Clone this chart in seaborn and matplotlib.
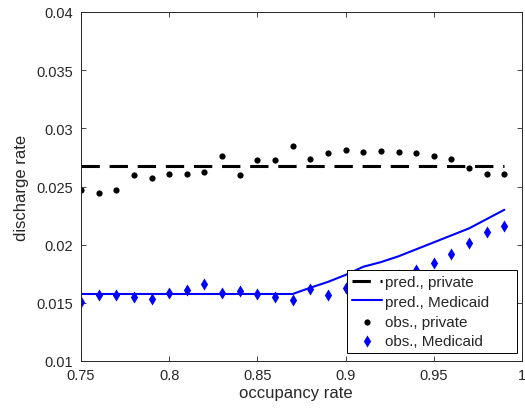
import numpy as np
import pandas as pd
import matplotlib
matplotlib.use("Agg")
import matplotlib.pyplot as plt
import seaborn as sns

# ---- data ----
occupancy = [0.75, 0.76, 0.77, 0.78, 0.79, 0.80, 0.81, 0.82, 0.83, 0.84, 0.85, 0.86, 0.87,
             0.88, 0.89, 0.90, 0.91, 0.92, 0.93, 0.94, 0.95, 0.96, 0.97, 0.98, 0.99]
pred_private = [0.0268, 0.0268, 0.0268, 0.0268, 0.0268, 0.0268, 0.0268, 0.0268, 0.0268,
                0.0268, 0.0268, 0.0268, 0.0268, 0.0268, 0.0268, 0.0268, 0.0268, 0.0268,
                0.0268, 0.0268, 0.0268, 0.0268, 0.0268, 0.0268, 0.0268]
pred_medicaid = [0.01576, 0.01576, 0.01576, 0.01576, 0.01576, 0.01576, 0.01576, 0.01576,
                 0.01576, 0.01576, 0.01576, 0.01576, 0.01576, 0.0163, 0.0168, 0.0174,
                 0.0181, 0.0185, 0.0190, 0.0196, 0.0202, 0.0208, 0.0214, 0.0222, 0.0230]
obs_private = [0.02467, 0.02448, 0.02473, 0.02602, 0.02574, 0.02611, 0.02611, 0.02625,
               0.02762, 0.02602, 0.02725, 0.02725, 0.02848, 0.02733, 0.02788, 0.02814,
               0.02797, 0.02808, 0.02797, 0.02788, 0.02762, 0.02737, 0.02656, 0.02611,
               0.02605]
obs_medicaid = [0.01510, 0.01564, 0.01570, 0.01547, 0.01536, 0.01584, 0.01607, 0.01659,
                0.01581, 0.01599, 0.01579, 0.01550, 0.01521, 0.01622, 0.01567, 0.01628,
                0.01660, 0.01700, 0.01740, 0.01781, 0.01839, 0.01916, 0.02016, 0.02110,
                0.02160]
x_ticks = [0.75, 0.8, 0.85, 0.9, 0.95, 1.0]
x_tick_labels = ["0.75", "0.8", "0.85", "0.9", "0.95", "1"]
y_ticks = [0.01, 0.015, 0.02, 0.025, 0.03, 0.035, 0.04]
y_tick_labels = ["0.01", "0.015", "0.02", "0.025", "0.03", "0.035", "0.04"]

df = pd.DataFrame({
    "occupancy": occupancy,
    "pred_private": pred_private,
    "pred_medicaid": pred_medicaid,
    "obs_private": obs_private,
    "obs_medicaid": obs_medicaid,
})

sns.set_style("ticks")
plt.rcParams["font.family"] = ["Liberation Sans", "DejaVu Sans"]
text_color = "#262626"

fig = plt.figure(figsize=(5.25, 4.14), dpi=100)
ax = fig.add_axes([81 / 525, (414 - 362) / 414, (522 - 81) / 525, (362 - 13) / 414])

sns.lineplot(data=df, x="occupancy", y="pred_private", ax=ax, color="black",
             linewidth=2.2, linestyle=(0, (6, 3.2)), label="pred., private")
sns.lineplot(data=df, x="occupancy", y="pred_medicaid", ax=ax, color="#0000ff",
             linewidth=1.5, label="pred., Medicaid")
sns.scatterplot(data=df, x="occupancy", y="obs_private", ax=ax, color="black",
                marker="o", s=20, linewidth=0, label="obs., private")
sns.scatterplot(data=df, x="occupancy", y="obs_medicaid", ax=ax, color="#0000ff",
                marker="d", s=38, linewidth=0, label="obs., Medicaid")

ax.set_xlim(0.75, 1.0)
ax.set_ylim(0.01, 0.04)
ax.set_xticks(x_ticks)
ax.set_xticklabels(x_tick_labels)
ax.set_yticks(y_ticks)
ax.set_yticklabels(y_tick_labels)
ax.tick_params(direction="in", length=3.6, width=0.6, top=True, right=True,
               labelsize=10.5, colors=text_color, pad=6)
ax.tick_params(axis="x", pad=5)
for sp in ax.spines.values():
    sp.set_visible(True)
    sp.set_color(text_color)
    sp.set_linewidth(0.7)

ax.set_xlabel("occupancy rate", fontsize=12, color=text_color, labelpad=2)
ax.xaxis.label.set_x(0.487)
ax.set_ylabel("discharge rate", fontsize=12, color=text_color, labelpad=5)

x0 = (347 - 81) / 441
y0 = (362 - 354) / 349
w = (517 - 347) / 441
leg = ax.legend(loc="lower left", bbox_to_anchor=(x0, y0, w, 0.2), mode="expand",
                fontsize=11, frameon=True, fancybox=False,
                edgecolor="black", framealpha=1, handlelength=2.0, handletextpad=0.2,
                labelspacing=0.38, borderpad=0.3, borderaxespad=0.0)
leg.get_frame().set_linewidth(0.7)

fig.savefig("out.png", dpi=100)
